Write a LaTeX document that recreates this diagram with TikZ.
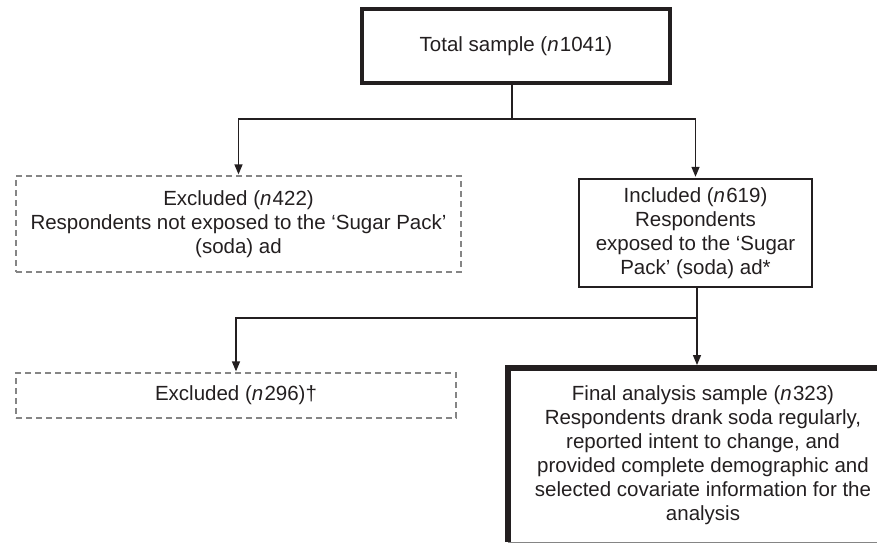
\documentclass[tikz,border=0pt]{standalone}
\usepackage{fontspec}
\setmainfont{Liberation Sans}
\usetikzlibrary{arrows.meta}
\definecolor{ink}{HTML}{231F20}
\definecolor{dgray}{HTML}{858585}
\newcommand{\nn}{\textit{n}\kern1.2pt}
\begin{document}
\begin{tikzpicture}[x=1pt,y=-1pt,
  every node/.style={font=\fontsize{20.5}{24}\selectfont, text=ink, align=center, inner sep=0pt, rectangle},
  thickbox/.style={draw=ink, line width=3.5pt},
  midbox/.style={draw=ink, line width=2.2pt},
  dashbox/.style={draw=dgray, line width=1.6pt, dash pattern=on 6pt off 4pt},
  conn/.style={draw=ink, line width=1.3pt},
  arr/.style={conn, -{Triangle[length=10pt,width=8pt]}}]
\useasboundingbox (0,0) rectangle (877,543);
\clip (0,0) rectangle (877,543);

\node[thickbox, minimum width=308pt, minimum height=74pt] (top) at (516,46) {Total sample (\nn1041)};
\node[dashbox, minimum width=445pt, minimum height=96pt] (ex1) at (238.5,224) {Excluded (\nn422)\\Respondents not exposed to the ‘Sugar Pack’\\(soda) ad};
\node[midbox, minimum width=233pt, minimum height=108pt] (inc) at (695.5,233) {Included (\nn619)\\Respondents\\exposed to the ‘Sugar\\Pack’ (soda) ad*};
\node[dashbox, minimum width=440pt, minimum height=45pt] (ex2) at (236,395.5) {Excluded (\nn296)†};
\node[minimum width=390pt, minimum height=174pt] (fin) at (703,455) {Final analysis sample (\nn323)\\Respondents drank soda regularly,\\reported intent to change, and\\provided complete demographic and\\selected covariate information for the\\analysis};
\draw[ink, line width=5.5pt] (fin.south west) -- (fin.north west) -- (fin.north east);
\draw[dgray, line width=1.3pt] (fin.south west) -- (fin.south east);

\coordinate (j1) at (512,119);
\draw[conn] ([xshift=-4pt]top.south) -- (j1);
\draw[arr, shorten >=0.8pt] (j1) -| (ex1.north);
\draw[arr, shorten >=1.1pt] (j1) -| (inc.north);
\coordinate (j2) at (697,318);
\draw[conn] ([xshift=1.5pt]inc.south) -- (j2);
\draw[arr, shorten >=0.8pt] (j2) -| (ex2.north);
\draw[arr, shorten >=2.75pt] (j2) -- (j2 |- fin.north);
\end{tikzpicture}
\end{document}
